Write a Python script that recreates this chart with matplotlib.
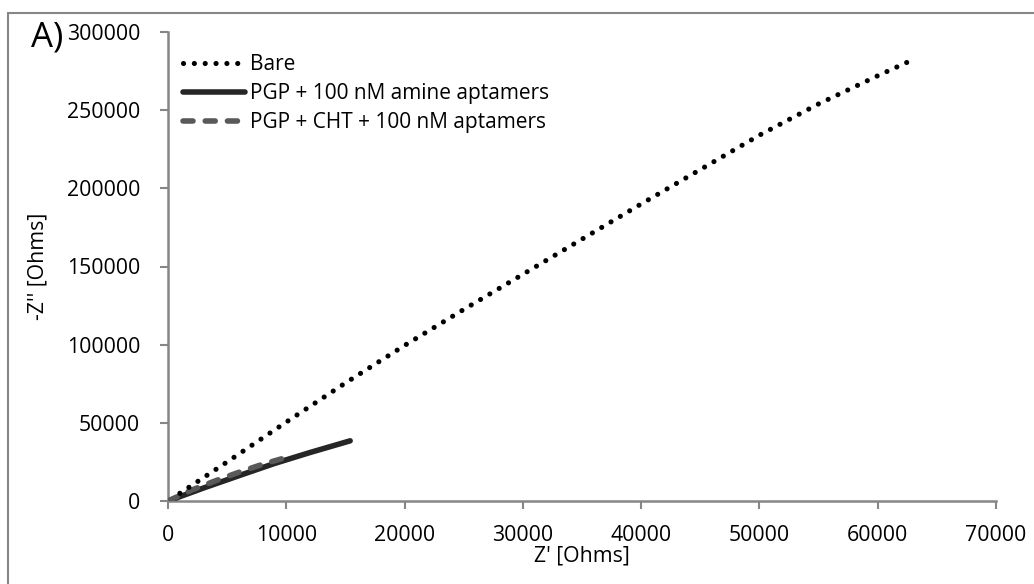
import matplotlib
matplotlib.use('Agg')
import matplotlib.pyplot as plt
from matplotlib.patches import Rectangle

# Nyquist data (Z' vs -Z'', Ohms)
bare_zre = [1000, 5000, 10000, 15000, 20000, 25000, 30000, 35000, 40000,
            45000, 50000, 55000, 60000, 62600]
bare_zim = [4900, 25000, 50500, 75500, 99500, 122500, 145000, 167500, 190000,
            212000, 234000, 254000, 272000, 281000]

amine_zre = [0, 3000, 6000, 9000, 12000, 15400]
amine_zim = [0, 8300, 16200, 24000, 31000, 38500]

cht_zre = [0, 2000, 4000, 6000, 8000, 10200]
cht_zim = [0, 7000, 12900, 18400, 23500, 28300]

labels = ['Bare', 'PGP + 100 nM amine aptamers', 'PGP + CHT + 100 nM aptamers']
xticks = [0, 10000, 20000, 30000, 40000, 50000, 60000, 70000]
yticks = [0, 50000, 100000, 150000, 200000, 250000, 300000]

plt.rcParams['font.family'] = ['Open Sans', 'DejaVu Sans']
AXC = '#868686'
FS = 15.3

fig = plt.figure(figsize=(10.34, 5.84), dpi=100)
ax = fig.add_axes([168/1034, 1 - 501/584, (996 - 168)/1034, (501 - 32)/584])

ax.plot(bare_zre, bare_zim, color='black', lw=3.7, linestyle=(0, (0.01, 2.1)),
        dash_capstyle='round', label=labels[0], zorder=4)
ax.plot(amine_zre, amine_zim, color='#262626', lw=4.0, solid_capstyle='round',
        label=labels[1], zorder=3)
ax.plot(cht_zre, cht_zim, color='#595959', lw=4.0, linestyle=(0, (1.8, 2.2)),
        dash_capstyle='round', label=labels[2], zorder=3.5)

ax.set_xlim(0, 70000)
ax.set_ylim(0, 300000)
ax.set_xticks(xticks)
ax.set_yticks(yticks)
ax.tick_params(axis='both', labelsize=FS, color=AXC, width=1.5, length=6,
               direction='out')
ax.tick_params(axis='y', pad=14)
ax.tick_params(axis='x', pad=11)

for side in ['top', 'right']:
    ax.spines[side].set_visible(False)
for side in ['left', 'bottom']:
    ax.spines[side].set_color(AXC)
    ax.spines[side].set_linewidth(1.8)

ax.set_xlabel("Z' [Ohms]", fontsize=FS, labelpad=0)
ax.set_ylabel("-Z'' [Ohms]", fontsize=FS, labelpad=13)

ax.legend(loc='upper left', bbox_to_anchor=(0.018, 0.953), frameon=False,
          fontsize=15, handlelength=3.0, handletextpad=0.22, labelspacing=0.38,
          borderpad=0, borderaxespad=0)

fig.text(47/1034, 1 - 37/584, 'A)', fontsize=25, ha='center', va='center')

# outer chart border (cropped at right/bottom in the reference)
fig.patches.append(Rectangle((8/1034, -0.05), 1.2, 1 - 13/584 + 0.05,
                             transform=fig.transFigure, fill=False,
                             edgecolor=AXC, lw=1.5))

fig.savefig('out.png', dpi=100)
